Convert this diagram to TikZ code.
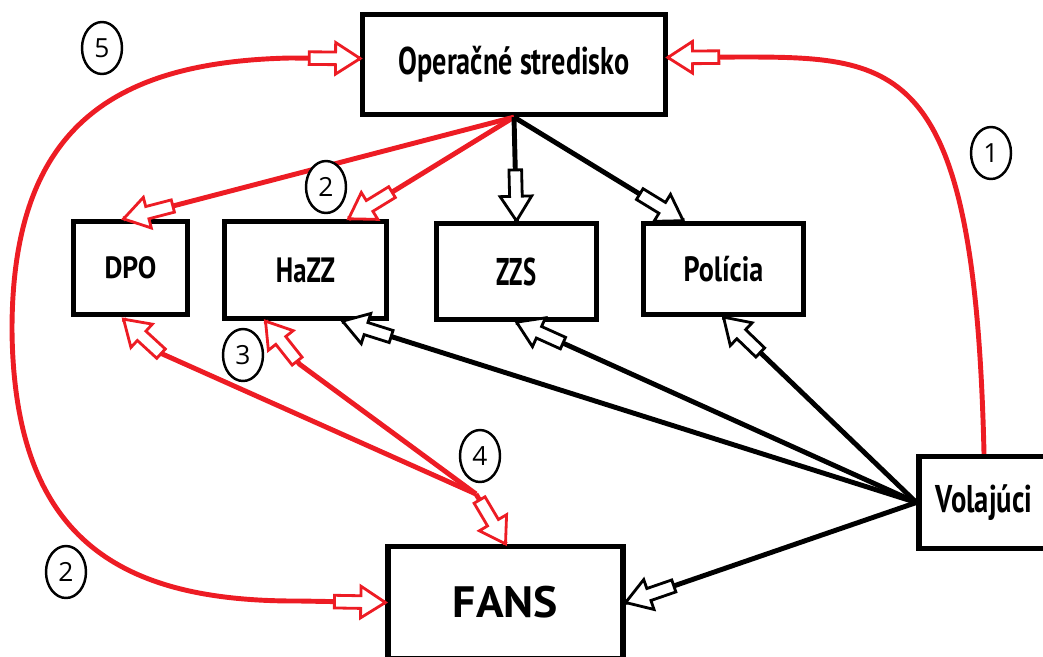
\documentclass[tikz,border=0pt]{standalone}
\usepackage{fontspec}
\setmainfont{PT Sans}
\newfontfamily\numfont{Open Sans}
\usetikzlibrary{shapes.geometric,decorations.markings,calc}
\definecolor{alarm}{RGB}{237,28,36}
\newcommand{\squeezed}[3]{\scalebox{#1}[1]{\fontsize{#2}{#2}\selectfont #3}}
\tikzset{
  box/.style={draw, line width=3pt, fill=white, inner sep=0pt, font=\bfseries},
  num/.style={ellipse, draw, fill=white, line width=1.4pt, minimum width=0.8cm, minimum height=1.04cm,
    inner sep=0pt, font=\numfont\fontsize{15}{15}\selectfont},
  fat/.style={line width=2.8pt, draw=#1, postaction={decorate},
    decoration={markings, mark=at position 1 with {
      \draw[draw=#1, fill=white, line width=1.6pt, line join=miter]
        (0,0) -- (-14pt,9pt) -- (-14pt,3.6pt) -- (-29pt,3.6pt) -- (-29pt,-3.6pt)
        -- (-14pt,-3.6pt) -- (-14pt,-9pt) -- cycle;}}}
}
\begin{document}
\begin{tikzpicture}[x=0.02cm,y=-0.02cm]
	\clip (0,0) rectangle (1043,656);
	% boxes
	\node[box, minimum width=6.05cm, minimum height=2cm] (ops) at (514,64.5) {\squeezed{0.73}{22}{Operačné stredisko}};
	\node[box, minimum width=2.28cm, minimum height=1.86cm] (dpo) at (130.5,268) {\squeezed{0.9}{17.5}{DPO}};
	\node[box, minimum width=3.24cm, minimum height=1.94cm] (hazz) at (305.5,270) {\squeezed{0.76}{20}{HaZZ}};
	\node[box, minimum width=3.2cm, minimum height=1.92cm] (zzs) at (516.5,271.5) {\squeezed{0.64}{22}{ZZS}};
	\node[box, minimum width=3.2cm, minimum height=1.82cm] (police) at (723.5,269) {\squeezed{0.8}{20}{Polícia}};
	\node[box, minimum width=2.6cm, minimum height=1.84cm] (caller) at (984,502.5) {\squeezed{0.74}{22}{Volajúci}};
	\node[box, minimum width=4.7cm, minimum height=2.24cm] (fans) at (505.5,602.5) {\squeezed{1.04}{25}{FANS}};
	\coordinate (bend) at (12,330);
	\coordinate (hub) at (476,494);
	% caller to the centre
	\draw[fat=alarm] (caller.north) .. controls (975,60) and (900,57) .. (740,57) -- ($(ops.east)+(0,-7)$);
	\draw[fat=alarm] (bend) .. controls (12,130) and (110,62) .. (290,58) -- ($(ops.west)+(0,-6)$);
	\draw[fat=alarm] (bend) .. controls (14,540) and (120,602) .. (300,601) -- (fans.west);
	% centre to the units
	\draw[fat=alarm] (ops.south) -- ($(dpo.north)+(-7,0)$);
	\draw[fat=alarm] (ops.south) -- ($(hazz.north)+(43,0)$);
	\draw[fat=black] (ops.south) -- (zzs.north);
	\draw[fat=black] (ops.south) -- ($(police.north)+(-40,0)$);
	% caller to the units
	\draw[fat=black] (caller.west) -- (police.south);
	\draw[fat=black] (caller.west) -- (zzs.south);
	\draw[fat=black] (caller.west) -- ($(hazz.south)+(37,0)$);
	\draw[fat=black] (caller.west) -- (fans.east);
	% FANS link
	\draw[fat=alarm] (hub) -- ($(dpo.south)+(30,36)$) -- ($(dpo.south)+(-7,2)$);
	\draw[fat=alarm] (hub) -- ($(hazz.south)+(-6,43)$) -- ($(hazz.south)+(-40,0)$);
	\draw[fat=alarm] (hub) -- (fans.north);
	% numbers
	\node[num] (n5) at (102,48) {5};
	\node[num] (n2) at (326,187) {2};
	\node[num] (n1) at (991,153) {1};
	\node[num] (n3) at (243,355) {3};
	\node[num] (n4) at (480,456) {4};
	\node[num] (n2b) at (66,572) {2};
\end{tikzpicture}
\end{document}
